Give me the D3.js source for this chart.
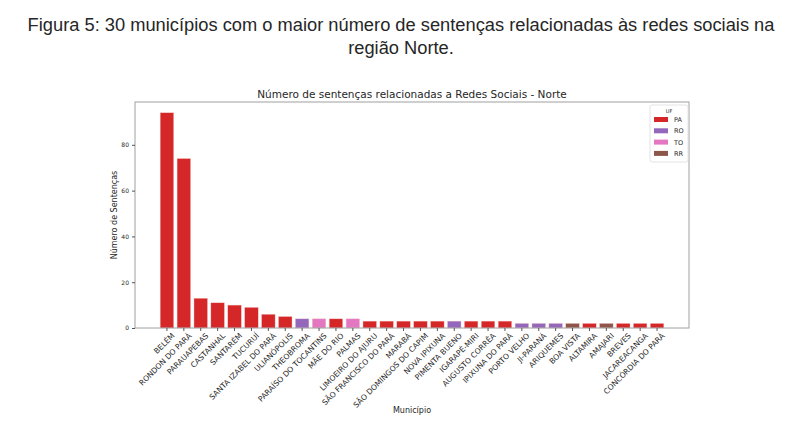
<!DOCTYPE html>
<html>
<head>
<meta charset="utf-8">
<script src="https://cdn.jsdelivr.net/npm/d3@7"></script>
<style>
  body { margin: 0; background: #fff; }
  text { fill: #262626; }
</style>
</head>
<body>
<div id="chart"></div>
<script>
// municipios, ordered as in the figure
const municipios = ["BELÉM", "RONDON DO PARÁ", "PARAUAPEBAS", "CASTANHAL", "SANTARÉM", "TUCURUÍ",
  "SANTA IZABEL DO PARÁ", "ULIANÓPOLIS", "THEOBROMA", "PARAÍSO DO TOCANTINS", "MÃE DO RIO", "PALMAS",
  "LIMOEIRO DO AJURU", "SÃO FRANCISCO DO PARÁ", "MARABÁ", "SÃO DOMINGOS DO CAPIM", "NOVA IPIXUNA",
  "PIMENTA BUENO", "IGARAPÉ-MIRI", "AUGUSTO CORRÊA", "IPIXUNA DO PARÁ", "PORTO VELHO", "JI-PARANÁ",
  "ARIQUEMES", "BOA VISTA", "ALTAMIRA", "AMAJARI", "BREVES", "JACAREACANGA", "CONCÓRDIA DO PARÁ"];
const sentencas = [94, 74, 13, 11, 10, 9, 6, 5, 4, 4, 4, 4, 3, 3, 3, 3, 3, 3, 3, 3, 3,
  2, 2, 2, 2, 2, 2, 2, 2, 2];
const uf = ["PA", "PA", "PA", "PA", "PA", "PA", "PA", "PA", "RO", "TO", "PA", "TO",
  "PA", "PA", "PA", "PA", "PA", "RO", "PA", "PA", "PA", "RO", "RO", "RO", "RR", "PA", "RR", "PA", "PA", "PA"];
const ufs = ["PA", "RO", "TO", "RR"];
const yTicks = [0, 20, 40, 60, 80];

const W = 804, H = 435;
const m = {left: 135, right: 689, top: 102, bottom: 328};

const svg = d3.select("#chart").append("svg")
  .attr("width", W).attr("height", H)
  .style("font-family", "'DejaVu Sans', sans-serif");

// caption above the figure
svg.append("text")
  .attr("x", 401).attr("y", 31)
  .attr("text-anchor", "middle")
  .style("font-family", "'Liberation Sans', Arial, sans-serif")
  .style("font-size", "18.3px")
  .text("Figura 5: 30 municípios com o maior número de sentenças relacionadas às redes sociais na");
svg.append("text")
  .attr("x", 401).attr("y", 54)
  .attr("text-anchor", "middle")
  .style("font-family", "'Liberation Sans', Arial, sans-serif")
  .style("font-size", "18.3px")
  .text("região Norte.");

const x = d3.scaleBand()
  .domain(municipios)
  .range([m.left, m.right])
  .paddingInner(0.2)
  .paddingOuter(1.49);

const y = d3.scaleLinear()
  .domain([0, 98.7])
  .range([m.bottom, m.top]);

const color = d3.scaleOrdinal()
  .domain(ufs)
  .range(["#d62728", "#9467bd", "#e377c2", "#8c564b"]);

// bars
svg.append("g")
  .selectAll("rect")
  .data(municipios)
  .join("rect")
    .attr("x", d => x(d))
    .attr("y", (d, i) => y(sentencas[i]))
    .attr("width", x.bandwidth())
    .attr("height", (d, i) => y(0) - y(sentencas[i]))
    .attr("fill", (d, i) => color(uf[i]))
    .attr("stroke", "#f4c6c6")
    .attr("stroke-width", 0.4);

// frame
svg.append("rect")
  .attr("x", m.left).attr("y", m.top)
  .attr("width", m.right - m.left).attr("height", m.bottom - m.top)
  .attr("fill", "none").attr("stroke", "#a0a0a0").attr("stroke-width", 1);

// y axis
const yAxis = svg.append("g")
  .attr("transform", `translate(${m.left},0)`)
  .call(d3.axisLeft(y).tickValues(yTicks).tickSize(3).tickPadding(3));
yAxis.select(".domain").remove();
yAxis.selectAll("line").attr("stroke", "#555");
yAxis.selectAll("text").style("font-size", "6px").style("font-family", "'DejaVu Sans', sans-serif").attr("fill", "#262626");

// x axis
const xAxis = svg.append("g")
  .attr("transform", `translate(0,${m.bottom})`)
  .call(d3.axisBottom(x).tickSize(3).tickPadding(2));
xAxis.select(".domain").remove();
xAxis.selectAll("line").attr("stroke", "#555");
xAxis.selectAll("text")
  .style("font-size", "7.6px")
  .style("font-family", "'DejaVu Sans', sans-serif")
  .attr("fill", "#262626")
  .attr("text-anchor", "end")
  .attr("dy", "0.5em")
  .attr("transform", "translate(2,2) rotate(-45)");

// titles
svg.append("text")
  .attr("x", (m.left + m.right) / 2).attr("y", 98)
  .attr("text-anchor", "middle")
  .style("font-size", "10.5px")
  .text("Número de sentenças relacionadas a Redes Sociais - Norte");

svg.append("text")
  .attr("transform", `translate(117,${(m.top + m.bottom) / 2}) rotate(-90)`)
  .attr("text-anchor", "middle")
  .style("font-size", "8px")
  .text("Número de Sentenças");

svg.append("text")
  .attr("x", (m.left + m.right) / 2).attr("y", 413)
  .attr("text-anchor", "middle")
  .style("font-size", "8px")
  .text("Município");

// legend
const lg = svg.append("g").attr("transform", "translate(650,105)");
lg.append("rect")
  .attr("width", 38).attr("height", 57).attr("rx", 2)
  .attr("fill", "#fff").attr("stroke", "#dcdcdc").attr("stroke-width", 0.8);
lg.append("text")
  .attr("x", 19).attr("y", 8).attr("text-anchor", "middle")
  .style("font-size", "5px").text("UF");
const item = lg.selectAll("g.item").data(ufs).join("g")
  .attr("class", "item")
  .attr("transform", (d, i) => `translate(4,${12 + i * 11.3})`);
item.append("rect")
  .attr("width", 14).attr("height", 5)
  .attr("fill", d => color(d));
item.append("text")
  .attr("x", 20).attr("y", 5)
  .style("font-size", "6.5px").text(d => d);
</script>
</body>
</html>
